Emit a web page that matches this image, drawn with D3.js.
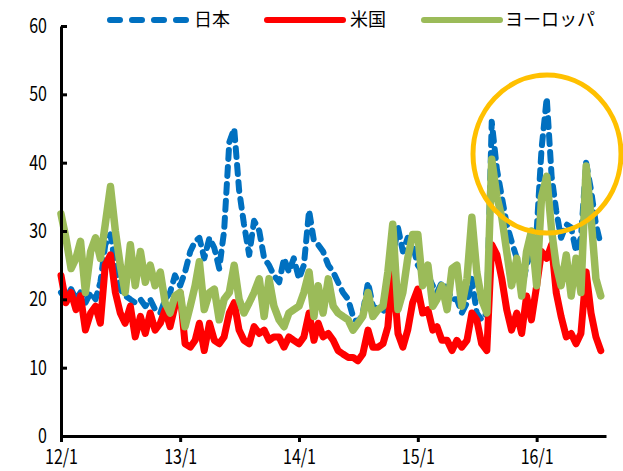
<!DOCTYPE html>
<html>
<head>
<meta charset="utf-8">
<script src="https://cdn.jsdelivr.net/npm/d3@7"></script>
<style>
  body { margin: 0; background: #fff; }
  text { font-family: "Noto Sans CJK JP", "Noto Sans", sans-serif; }
</style>
</head>
<body>
<div id="chart"></div>
<script>
// semi-monthly readings (1st and 16th of each month), 2012/1/1 .. 2016/7/16
const japan = [
  21, 20, 21.5, 20, 21, 19.5, 21, 20, 22.5, 28, 29.5, 25, 21.5, 20.5, 20, 19.5, 20, 19, 20, 18.5, 18, 20, 21, 23.5,
  22, 24, 27, 28.5, 29, 26, 29, 27.5, 24.5, 30, 43, 45, 36, 31, 26.5, 31.5, 30, 26, 25, 23.5, 22.5, 26, 24, 26,
  23, 25, 33, 28.5, 28, 27, 25, 24, 22.5, 21, 20, 17.5, 16.5, 18, 22.5, 19, 18.5, 18, 20, 26, 30.5, 27, 29, 28,
  25, 24, 23.5, 22, 21, 22.5, 21.5, 20, 20, 18, 19.5, 23, 18, 17, 18, 46, 39, 35, 31, 28.5, 26, 21.5, 25, 27,
  30, 42, 49.5, 38, 33, 29, 31, 30.5, 27, 29, 40, 36, 31, 28
];
const us = [
  23.5, 19.5, 21, 18.5, 20.5, 15.5, 18, 19, 16.5, 25, 26.5, 21, 18, 16.5, 19, 14.5, 17.5, 15, 18, 15.5, 16.5, 18.5, 16, 19,
  21, 13.5, 13, 14, 16.5, 12.5, 16.5, 14, 13.5, 14.5, 18, 19.5, 15.5, 14, 13.5, 16, 15, 15.5, 14, 14.5, 14.5, 13, 14.5, 14,
  13.5, 14.5, 18, 14, 16.5, 14.5, 15, 14, 12.5, 12, 11.5, 11.5, 11, 12, 15.5, 13, 13, 13.5, 16, 24.5, 15, 13, 15.5, 19.5,
  21.5, 18, 18.5, 15.5, 16, 14, 14, 12.5, 14, 13, 14, 18, 17, 13.5, 12.5, 28, 26.5, 23, 18.5, 15.5, 18, 15, 20.5, 17,
  22, 27, 26, 28, 21, 17.5, 14.5, 15, 13.5, 15, 24, 18, 14.5, 12.5
];
const europe = [
  32.5, 29, 24.5, 26, 28.5, 21, 27, 29, 26, 31, 36.5, 30, 25, 21, 28, 22, 27, 22.5, 25, 22, 24, 19.5, 18, 20.5,
  21, 16, 19, 22, 25.5, 18.5, 21, 21.5, 17, 20, 21, 25, 20, 18, 19.5, 21, 23, 17.5, 23, 19, 17, 16, 18, 18.5,
  19, 21, 24, 17.5, 22, 18, 23, 19, 18, 17.5, 17, 15.5, 16.5, 17.5, 21, 17.5, 18.5, 19, 24, 31, 18.5, 21, 26, 29.5,
  29.5, 22, 25, 19, 20, 22, 18.5, 24.5, 25, 19, 23, 32, 24, 20, 18, 40.5, 35, 32, 27, 22, 26, 20.5, 27, 30,
  22, 35, 38, 30, 25, 22, 26.5, 20.5, 26, 21, 39.5, 32, 23, 20.5
];
const seriesNames = ["日本", "米国", "ヨーロッパ"];
const yTicks = [0, 10, 20, 30, 40, 50, 60];
const xTickYears = [2012, 2013, 2014, 2015, 2016];

const width = 623, height = 471;
const margin = { left: 61, right: 17, top: 26, bottom: 35 };

const dates = japan.map((_, i) =>
  new Date(2012 + Math.floor(i / 24), Math.floor((i % 24) / 2), i % 2 ? 16 : 1));

const x = d3.scaleTime()
  .domain([new Date(2012, 0, 1), new Date(2016, 7, 1)])
  .range([margin.left, width - margin.right]);
const y = d3.scaleLinear()
  .domain([0, 60])
  .range([height - margin.bottom, margin.top]);

const svg = d3.select("#chart").append("svg")
  .attr("width", width)
  .attr("height", height);

// lines
const line = (vals) => d3.line()
  .x((d, i) => x(dates[i]))
  .y((d) => y(d))(vals);

const series = [
  { name: seriesNames[0], values: japan, color: "#0070C0", width: 6, dash: "9,8" },
  { name: seriesNames[1], values: us, color: "#FF0000", width: 7, dash: null },
  { name: seriesNames[2], values: europe, color: "#9BBB59", width: 7.5, dash: null },
];

svg.append("g")
  .selectAll("path")
  .data(series)
  .join("path")
  .attr("d", (d) => line(d.values))
  .attr("fill", "none")
  .attr("stroke", (d) => d.color)
  .attr("stroke-width", (d) => d.width)
  .attr("stroke-linejoin", "round")
  .attr("stroke-linecap", "round")
  .attr("stroke-dasharray", (d) => d.dash);

// axes
const yAxis = svg.append("g")
  .attr("transform", `translate(${margin.left},0)`)
  .call(d3.axisLeft(y).tickValues(yTicks).tickSize(-6).tickPadding(14).tickSizeOuter(0));
const xAxis = svg.append("g")
  .attr("transform", `translate(0,${height - margin.bottom})`)
  .call(d3.axisBottom(x)
    .tickValues(xTickYears.map((yr) => new Date(yr, 0, 1)))
    .tickFormat(d3.timeFormat("%y/%-m"))
    .tickSize(6).tickPadding(8).tickSizeOuter(0));

[yAxis, xAxis].forEach((g) => {
  g.select(".domain").attr("stroke", "#000").attr("stroke-width", 3);
  g.selectAll(".tick line").attr("stroke", "#000").attr("stroke-width", 3);
  g.selectAll(".tick text").attr("fill", "#000").attr("font-size", 20);
});
yAxis.selectAll(".tick text").each(function () {
  const t = d3.select(this);
  const tx = +t.attr("x");
  t.attr("x", 0).attr("transform", `translate(${tx},0) scale(0.8,1)`);
});
xAxis.selectAll(".tick text").attr("transform", "scale(0.8,1)");

// legend
const legendItems = [
  { x0: 110, tx: 194 },
  { x0: 267, tx: 350 },
  { x0: 424, tx: 505 },
];
const legend = svg.append("g");
series.forEach((s, i) => {
  const it = legendItems[i];
  legend.append("line")
    .attr("x1", it.x0).attr("x2", it.x0 + 76)
    .attr("y1", 20).attr("y2", 20)
    .attr("stroke", s.color)
    .attr("stroke-width", 6)
    .attr("stroke-linecap", "round")
    .attr("stroke-dasharray", s.dash ? "10,12" : null);
  legend.append("text")
    .attr("x", it.tx).attr("y", 20)
    .attr("dy", "0.36em")
    .attr("font-size", 18)
    .attr("fill", "#000")
    .text(s.name);
});

// highlight ring
svg.append("ellipse")
  .attr("cx", 547).attr("cy", 154)
  .attr("rx", 74).attr("ry", 79)
  .attr("fill", "none")
  .attr("stroke", "#FFC000")
  .attr("stroke-width", 5);
</script>
</body>
</html>
